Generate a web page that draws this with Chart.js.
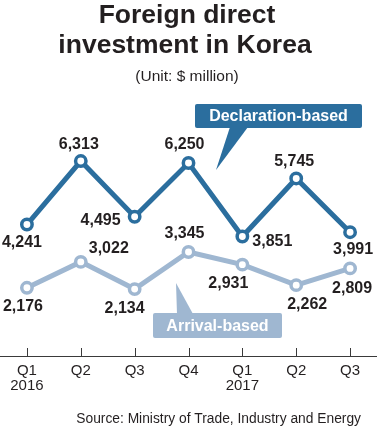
<!DOCTYPE html>
<html>
<head>
<meta charset="utf-8">
<script src="https://cdn.jsdelivr.net/npm/chart.js@4/dist/chart.umd.min.js"></script>
<style>
  body { margin: 0; background: #fff; }
</style>
</head>
<body>
<canvas id="chartFdi" width="377" height="426"></canvas>
<script>
// datos del grafico
const quarters = [['Q1', '2016'], 'Q2', 'Q3', 'Q4', ['Q1', '2017'], 'Q2', 'Q3'];
const declaration = [4241, 6313, 4495, 6250, 3851, 5745, 3991];
const arrival = [2176, 3022, 2134, 3345, 2931, 2262, 2809];

const seriesNames = ['Declaration-based', 'Arrival-based'];
const titleLines = ['Foreign direct', 'investment in Korea'];
const subtitle = '(Unit: $ million)';
const source = 'Source: Ministry of Trade, Industry and Energy';

const dark = '#2b6e9e';   // azul oscuro
const light = '#9fb7d1';  // azul claro
const ink = '#231f20';

// desplazamiento de cada etiqueta respecto a su punto
const labelOffsets = [
    [[-5, 18], [-2, -16], [-34, 4], [-4, -18], [30, 5], [-2, -17], [3, 17]],
    [[-4, 19], [28, -13], [-10, 20], [-4, -18], [-14, 19], [11, 19], [2, 20]]
];

Chart.defaults.font.family = '"Liberation Sans", Arial, sans-serif';

const textPlugin = {
    id: 'textos',
    afterDraw(chart) {
        const ctx = chart.ctx;
        ctx.save();
        ctx.fillStyle = ink;
        ctx.textAlign = 'center';
        ctx.textBaseline = 'alphabetic';
        ctx.font = 'bold 26.5px "Liberation Sans", Arial, sans-serif';
        ctx.fillText(titleLines[0], 187, 23);
        ctx.fillText(titleLines[1], 185, 53);
        ctx.font = '15.5px "Liberation Sans", Arial, sans-serif';
        ctx.fillText(subtitle, 187, 81);
        ctx.textAlign = 'right';
        ctx.font = '13.8px "Liberation Sans", Arial, sans-serif';
        ctx.fillText(source, 361, 423);
        ctx.restore();
    }
};

const ticksPlugin = {
    id: 'marcas',
    afterDraw(chart) {
        const ctx = chart.ctx;
        const x = chart.scales.x;
        const bottom = chart.chartArea.bottom;
        ctx.save();
        ctx.strokeStyle = '#3a3a3a';
        ctx.lineWidth = 1;
        for (let i = 0; i < quarters.length; i++) {
            const px = Math.round(x.getPixelForTick(i)) + 0.5;
            ctx.beginPath();
            ctx.moveTo(px, bottom - 8);
            ctx.lineTo(px, bottom);
            ctx.stroke();
        }
        ctx.restore();
    }
};

const valueLabels = {
    id: 'etiquetas',
    afterDatasetsDraw(chart) {
        const ctx = chart.ctx;
        ctx.save();
        ctx.fillStyle = ink;
        ctx.font = 'bold 16px "Liberation Sans", Arial, sans-serif';
        ctx.textAlign = 'center';
        ctx.textBaseline = 'middle';
        chart.data.datasets.forEach((ds, d) => {
            chart.getDatasetMeta(d).data.forEach((pt, i) => {
                const off = labelOffsets[d][i];
                ctx.fillText(ds.data[i].toLocaleString('en-US'), pt.x + off[0], pt.y + off[1]);
            });
        });
        ctx.restore();
    }
};

function callout(ctx, box, tri, color, text) {
    ctx.fillStyle = color;
    ctx.beginPath();
    ctx.roundRect(box[0], box[1], box[2], box[3], 2);
    ctx.fill();
    ctx.beginPath();
    ctx.moveTo(tri[0][0], tri[0][1]);
    ctx.lineTo(tri[1][0], tri[1][1]);
    ctx.lineTo(tri[2][0], tri[2][1]);
    ctx.closePath();
    ctx.fill();
    ctx.fillStyle = '#fff';
    ctx.font = 'bold 16px "Liberation Sans", Arial, sans-serif';
    ctx.textAlign = 'center';
    ctx.textBaseline = 'middle';
    ctx.fillText(text, box[0] + box[2] / 2, box[1] + box[3] / 2 + 1);
}

const calloutPlugin = {
    id: 'leyendas',
    afterDatasetsDraw(chart) {
        const ctx = chart.ctx;
        ctx.save();
        callout(ctx, [195, 104, 167, 24], [[230, 127], [248, 127], [216, 170]], dark, seriesNames[0]);
        callout(ctx, [153, 313, 129, 25], [[176, 283], [177, 314], [193, 314]], light, seriesNames[1]);
        ctx.restore();
    }
};

new Chart(document.getElementById('chartFdi').getContext('2d'), {
    type: 'line',
    data: {
        labels: quarters,
        datasets: [
            {
                label: seriesNames[0],
                data: declaration,
                borderColor: dark,
                borderWidth: 5,
                pointRadius: 5.2,
                pointBorderWidth: 3.5,
                pointBackgroundColor: '#fff',
                pointBorderColor: dark,
                tension: 0,
                clip: false
            },
            {
                label: seriesNames[1],
                data: arrival,
                borderColor: light,
                borderWidth: 5,
                pointRadius: 5.2,
                pointBorderWidth: 3.5,
                pointBackgroundColor: '#fff',
                pointBorderColor: light,
                tension: 0,
                clip: false
            }
        ]
    },
    options: {
        responsive: false,
        animation: false,
        layout: { autoPadding: false, padding: { top: 140, left: 0, right: 0, bottom: 0 } },
        scales: {
            x: {
                offset: true,
                grid: { display: false, drawTicks: false },
                border: { display: true, color: '#3a3a3a', width: 1 },
                ticks: {
                    color: ink,
                    padding: 8,
                    maxRotation: 0,
                    autoSkip: false,
                    font: { size: 15, lineHeight: 0.95 }
                },
                afterFit(scale) {
                    scale.height = 70;
                    scale.paddingLeft = 0;
                    scale.paddingRight = 0;
                }
            },
            y: { display: false, min: -50, max: 7000 }
        },
        plugins: {
            legend: { display: false },
            tooltip: { enabled: false },
            title: { display: false }
        }
    },
    plugins: [textPlugin, ticksPlugin, valueLabels, calloutPlugin]
});
</script>
</body>
</html>
